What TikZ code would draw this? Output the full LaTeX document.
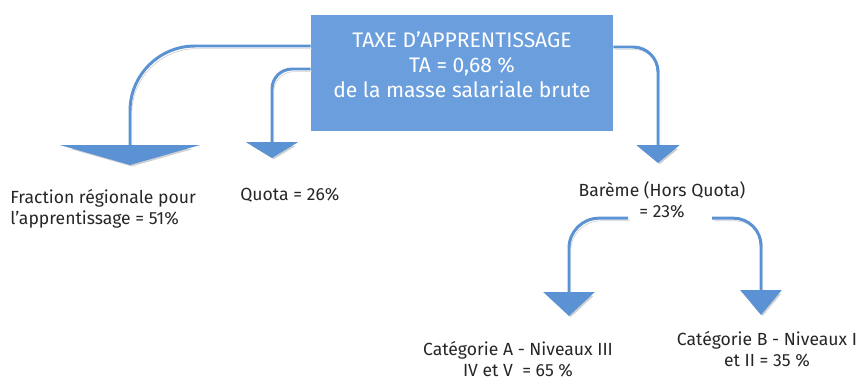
\documentclass[tikz,border=0pt]{standalone}
\usepackage{fontspec}
\setmainfont{Fira Sans}
\usetikzlibrary{arrows.meta,calc}
\definecolor{boxblue}{HTML}{6A9EDC}
\definecolor{linkblue}{HTML}{5A92D3}
\begin{document}
\begin{tikzpicture}[x=0.02cm,y=-0.02cm,
	link/.style={draw=linkblue,line width=1.7pt,rounded corners=#1,
		preaction={draw=black!18,transform canvas={shift={(1pt,-1.5pt)}}}},
	lbl/.style={inner sep=0pt,text=black!85,font=\fontsize{10}{12}\selectfont}]
	\useasboundingbox (0,0) rectangle (860,383);
	\node[fill=boxblue,minimum width=6.04cm,minimum height=2.32cm,inner sep=0pt] (ta) at (462,73) {};
	\node[text=white,align=center,font=\fontsize{12}{14.2}\selectfont] (tatext) at (462,65) {TAXE D’APPRENTISSAGE\\TA = 0,68 \%\\de la masse salariale brute};
	\node[lbl,align=left,anchor=north west] (frac) at (10,189) {Fraction régionale pour\\l’apprentissage = 51\%};
	\node[lbl,anchor=north west] (quota) at (240,188) {Quota = 26\%};
	\node[lbl,align=center,anchor=north] (bar) at (662,181) {Barème (Hors Quota)\\= 23\%};
	\node[lbl,align=center,anchor=north] (catA) at (518,341) {Catégorie A - Niveaux III\\IV et V \ = 65 \%};
	\node[lbl,align=center,anchor=north] (catB) at (767,331) {Catégorie B - Niveaux I\\et II = 35 \%};
	% arrow ends
	\coordinate (fractip) at (130,165);
	\coordinate (quotatip) at (272,158);
	\coordinate (bartip) at (658,163);
	\coordinate (catAtip) at (569,316);
	\coordinate (catBtip) at (761,315);
	\draw[link=1.3cm,-{Triangle[width=2.8cm,length=0.4cm]}] ($(ta.west)+(0,-27)$) -| (fractip);
	\draw[link=0.4cm,-{Triangle[width=1.04cm,length=0.32cm]}] ($(ta.west)+(0,-4)$) -| (quotatip);
	\draw[link=0.5cm,-{Triangle[width=0.86cm,length=0.36cm]}] ($(ta.east)+(0,-26)$) -| (bartip);
	\draw[link=0.6cm,-{Triangle[width=1.02cm,length=0.48cm]}] ($(bar.south)+(-34,0)$) -| (catAtip);
	\draw[link=0.55cm,-{Triangle[width=0.82cm,length=0.5cm]}] ($(bar.south)+(50,0)$) -| (catBtip);
\end{tikzpicture}
\end{document}
